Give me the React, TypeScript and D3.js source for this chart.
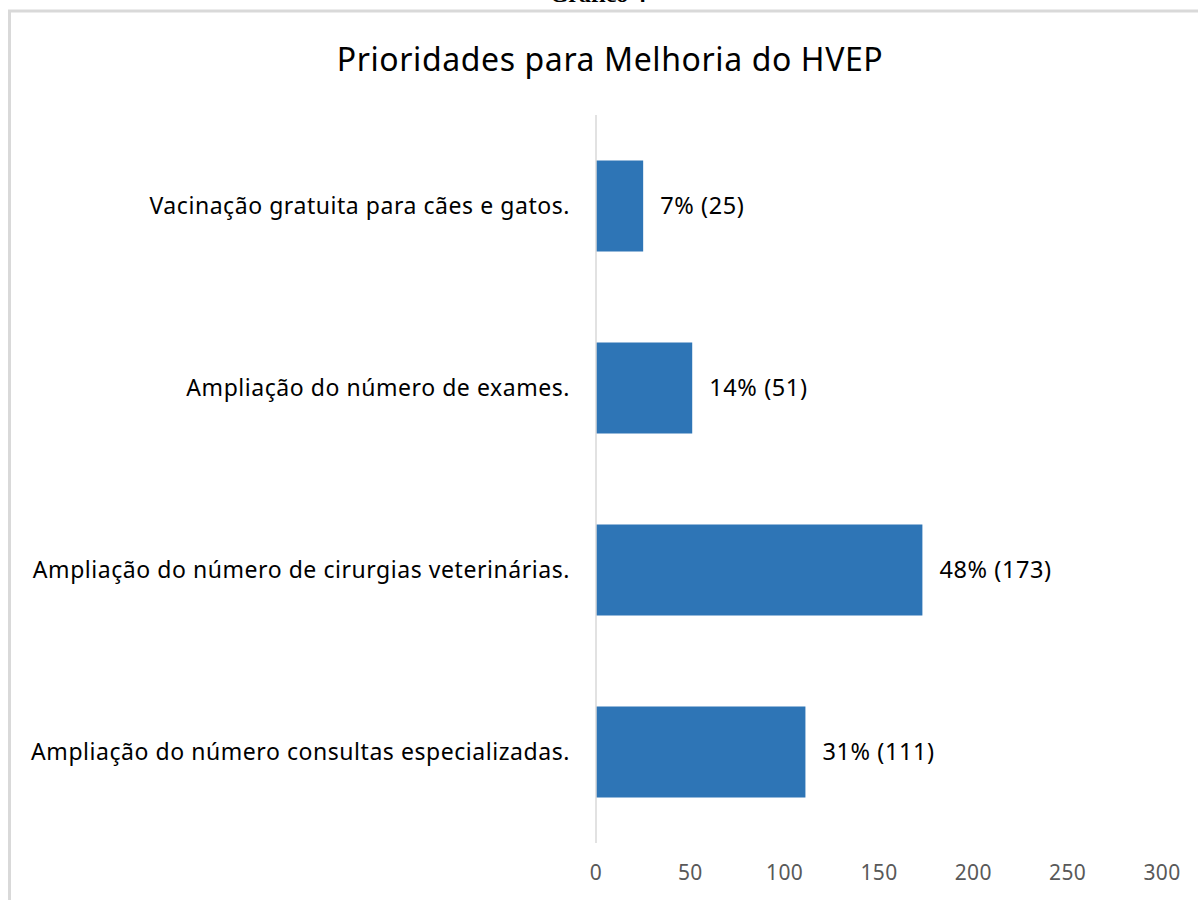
import * as React from "react"
import * as d3 from "d3"

const WIDTH = 1198
const HEIGHT = 900

const categories = [
  "Vacinação gratuita para cães e gatos.",
  "Ampliação do número de exames.",
  "Ampliação do número de cirurgias veterinárias.",
  "Ampliação do número consultas especializadas.",
]
const counts = [25, 51, 173, 111]
const percents = ["7%", "14%", "48%", "31%"]
const xTicks = [0, 50, 100, 150, 200, 250, 300]

const FONT = "'Noto Sans', 'Open Sans', sans-serif"

export default function App() {
  const x = d3.scaleLinear().domain([0, 300]).range([596, 1162])
  const y = d3
    .scaleBand()
    .domain(categories)
    .range([115, 843])
    .paddingInner(0.5)
    .paddingOuter(0.25)

  return (
    <svg
      width={WIDTH}
      height={HEIGHT}
      style={{ position: "absolute", left: 0, top: 0, background: "#fff" }}
    >
      <text
        x={598}
        y={2}
        textAnchor="middle"
        fontFamily="'Liberation Serif', serif"
        fontWeight="bold"
        fontSize={24}
        fill="#000"
      >
        Gráfico 4
      </text>
      <rect x={9.5} y={11} width={1300} height={1000} fill="none" stroke="#d9d9d9" strokeWidth={3} />

      <text
        x={610}
        y={71}
        textAnchor="middle"
        fontFamily={FONT}
        fontSize={32}
        letterSpacing={0.6}
        fill="#000"
      >
        Prioridades para Melhoria do HVEP
      </text>

      {categories.map((c, i) => (
        <g key={c}>
          <rect
            x={x(0)}
            y={y(c)}
            width={x(counts[i]) - x(0)}
            height={y.bandwidth()}
            fill="#2e75b6"
          />
          <text
            x={570}
            y={(y(c) as number) + y.bandwidth() / 2}
            dy="0.35em"
            textAnchor="end"
            fontFamily={FONT}
            fontSize={23}
            letterSpacing={0.55}
            fill="#000"
          >
            {c}
          </text>
          <text
            x={x(counts[i]) + 17}
            y={(y(c) as number) + y.bandwidth() / 2}
            dy="0.35em"
            fontFamily={FONT}
            fontSize={23.5}
            letterSpacing={0.6}
            fill="#000"
          >
            {`${percents[i]} (${counts[i]})`}
          </text>
        </g>
      ))}

      <line x1={x(0)} x2={x(0)} y1={115} y2={843} stroke="#d9d9d9" strokeWidth={1.5} />

      {xTicks.map((t) => (
        <text
          key={t}
          x={x(t)}
          y={873}
          dy="0.35em"
          textAnchor="middle"
          fontFamily={FONT}
          fontSize={21}
          letterSpacing={0.4}
          fill="#595959"
        >
          {t}
        </text>
      ))}
    </svg>
  )
}
